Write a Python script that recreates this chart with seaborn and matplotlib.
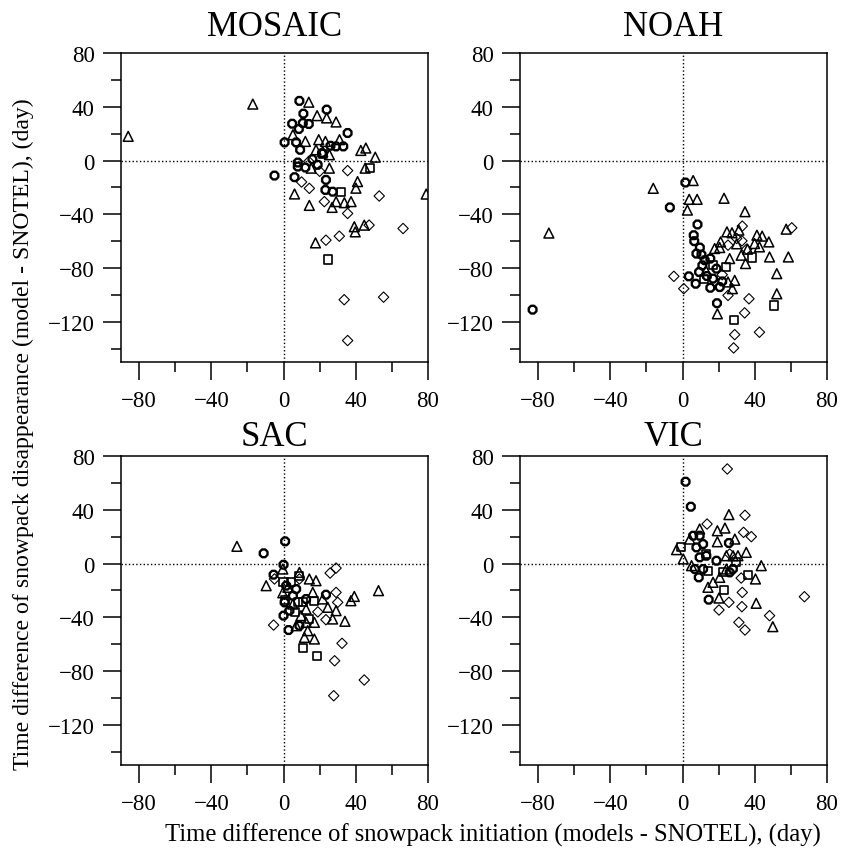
import pandas as pd
import matplotlib
matplotlib.use('Agg')
import matplotlib.pyplot as plt
import numpy as np
import seaborn as sns
from matplotlib.ticker import MultipleLocator

# ---- data (x: initiation diff, y: disappearance diff), days ----
# MOSAIC
mosaic_tri_x = [-86, -17, 14, 18.6, 23.9, 29.1, 5.2, 12.1, 19.5, 23.2, 31, 18, 21.7, 25.4, 42.8, 45.6, 50.8,
                15.3, 25.4, 45.2, 41, 40.1, 6.1, 29.1, 33.7, 37.4, 26.9, 14.3, 39.2, 39.7, 44.7, 17.7, 79]
mosaic_tri_y = [18, 42, 43.4, 33.4, 31.7, 28.7, 19.2, 14.2, 15.5, 14.2, 15.5, 8, 6.7, 4.3, 7.5, 9.3, 2.5,
                -5.7, -5.7, -5.7, -15.7, -20.6, -24.9, -30.6, -31.4, -30.6, -34.9, -33.4, -49.3, -53.1, -48.1, -61.3, -25]
mosaic_cir_x = [8.8, 23.9, 11, 4.8, 14, 10.7, 8.5, 0.6, 7, 9.2, 35.5, 33.1, 29.1, 21.3, 7.9, 18.9, 12.1,
                6.1, -5, 23.5, 23.2, 27.2, 7.9, 16, 26]
mosaic_cir_y = [44.4, 37.9, 34.9, 27.4, 27.2, 27.9, 23.5, 13.5, 13.5, 8, 20.5, 10.5, 10.5, 5.5, -1.5, -3.2, -5.2,
                -12.4, -11.2, -14.4, -21.9, -23.2, -4.5, 1, 11]
mosaic_dia_x = [14, 35.5, 14.3, 53, 22.6, 35.5, 47.4, 23.5, 30.9, 33.6, 55.4, 35.5, 66.2, 20, 10]
mosaic_dia_y = [-0.7, -7.5, -20.7, -26.4, -30.6, -39.4, -48.1, -59.3, -56.3, -103.6, -101.7, -134, -50.6, -8, -16]
mosaic_sq_x = [47.8, 31.8, 24.5, 22.1]
mosaic_sq_y = [-5.7, -23.2, -73.7, 5]

# NOAH
noah_tri_x = [-74, -16.2, 5.9, 3.7, 8.1, 23, 2.7, 34.6, 24.6, 27.4, 31.2, 21.1, 20.6, 17.8, 41.2, 44.1, 47.8,
              39.9, 42.6, 57.4, 48.2, 58.6, 32.5, 26.1, 34.9, 52.2, 52.2, 25.2, 28.9, 27.6, 19.3, 36, 30, 13]
noah_tri_y = [-54, -20.7, -14.9, -28.9, -28.9, -28.1, -36.9, -38.1, -53.1, -53.8, -51.8, -60.6, -64.8, -65.5,
              -55.6, -56.3, -60.6, -61.8, -64.3, -51.1, -71.8, -71.8, -70.5, -73, -76.7, -84.2, -99.2, -90.4,
              -89.2, -95.4, -114.1, -66, -62, -82]
noah_cir_x = [-83, 1.6, -7, 8.3, 6.2, 9.6, 7.7, 12.3, 15.4, 18.8, 3.5, 7.3, 9.2, 15.4, 16.9, 20.6, 19.1,
              6.5, 11, 13.5, 22, 10.5]
noah_cir_y = [-111, -16.4, -34.9, -47.6, -55.6, -64.8, -69.3, -74.2, -73, -80.5, -86.2, -91.7, -83, -94.7,
              -87.9, -94.2, -106.2, -60, -78, -86, -90, -70]
noah_dia_x = [33.1, 32.9, 25.2, 60.5, 25.2, -4.8, 0.7, 36.8, 34.4, 42.6, 28.9, 28.3, 35.5, 30, 22]
noah_dia_y = [-48.8, -59.8, -63, -50.1, -100.4, -86.2, -95.4, -102.9, -113.4, -127.8, -129.6, -139.5, -66, -58, -85]
noah_sq_x = [38.6, 23.9, 50.9, 28.5, 12, 17]
noah_sq_y = [-72.2, -79.2, -107.9, -118.6, -88, -78]

# SAC
sac_tri_x = [-25.8, -9.6, -0.4, 8.8, 14.3, 18, -0.4, 16.2, 21.7, 12.5, 17.1, 12.5, 7, 13.4, 11.6, 17.1,
             24.5, 29.1, 27.2, 34, 37.3, 39.2, 52.6, 5.2, 9.7, 2.4]
sac_tri_y = [12.8, -16.5, -4.1, -6.6, -11.5, -12.8, -21.8, -21.5, -26.4, -33.9, -43.8, -43.8, -46.3, -50,
             -55, -56.2, -32.6, -35.1, -41.3, -43, -27.7, -24.5, -20.2, -30.2, -38.8, -17.7]
sac_cir_x = [0.9, -11, -5.5, 0, 23.5, 0, 2.8, 1.5, 7, 5.2, 0.6, 12.5, 3.3, 8.8]
sac_cir_y = [16.5, 7.6, -8.3, -0.9, -23.2, -38.8, -49.5, -16.5, -19, -24, -28.9, -26.4, -35.1, -46.3]
sac_dia_x = [-5, 25.8, 29.1, 29.1, 30, 23.5, 32.4, 28.3, 44.7, 27.8, -5.5, 8.8, 19]
sac_dia_y = [-11.5, -7.1, -3.4, -21.5, -28.9, -41.8, -59.4, -72.4, -86.7, -98.4, -45.8, -11.5, -36]
sac_sq_x = [0, 4.2, 8.8, 0.9, 7.9, 10.7, 17.1, 6.4, 14.3, 10.9, 18.4]
sac_sq_y = [-14, -14, -9, -27, -28.9, -28.9, -27.7, -36.3, -41.3, -63.2, -68.6]

# VIC
vic_tri_x = [25.7, 19.3, 23.5, 29, 19.3, 35.3, 43.6, 40.4, 40.8, 50, 20.2, 14.1, 16.9, -3.3, 0.4, 5, 24.3,
             28, 30.7, 4, 20.6, 24.3, 9.5]
vic_tri_y = [36.4, 24.4, 26.4, 18.2, 16.2, 8.3, -1.6, -11.5, -29.6, -47, -25.7, -17.7, -14, 10.3, 3.4, -1.6,
             5.8, 5.8, 5.8, 18.2, -10.3, -4.1, 25.7]
vic_cir_x = [1.7, 4.6, 25.7, 9, 14.5, 7.7, 9.5, 11.4, 13.2, 9.5, 6.8, 11.4, 18.8, 26.1, 27.9, 5.9]
vic_cir_y = [60.9, 42.3, 15.3, -10.3, -26.9, 12, 20.7, 14.5, 5.8, 4.6, -4.1, -4.1, 2.1, -6.6, -4.1, 20.7]
vic_dia_x = [24.8, 34.6, 13.6, 33.8, 38.1, 32.5, 67.5, 33.1, 25.7, 32.9, 20.2, 48.2, 31.2, 34.6, 26.1]
vic_dia_y = [70.4, 35.9, 29.4, 23.2, 20, -10.8, -24.7, -21.5, -28.9, -32.1, -34.6, -38.8, -43.8, -49.5, 7.1]
vic_sq_x = [-0.6, 14.1, 22.8, 36.2, 13.2, 22.4, 29.8]
vic_sq_y = [12, -5.4, -19.7, -8.6, 7.1, -6.6, 0.9]

panel_names = ['MOSAIC', 'NOAH', 'SAC', 'VIC']
panel_data = {
    'MOSAIC': [(mosaic_tri_x, mosaic_tri_y), (mosaic_dia_x, mosaic_dia_y), (mosaic_cir_x, mosaic_cir_y), (mosaic_sq_x, mosaic_sq_y)],
    'NOAH': [(noah_tri_x, noah_tri_y), (noah_dia_x, noah_dia_y), (noah_cir_x, noah_cir_y), (noah_sq_x, noah_sq_y)],
    'SAC': [(sac_tri_x, sac_tri_y), (sac_dia_x, sac_dia_y), (sac_cir_x, sac_cir_y), (sac_sq_x, sac_sq_y)],
    'VIC': [(vic_tri_x, vic_tri_y), (vic_dia_x, vic_dia_y), (vic_cir_x, vic_cir_y), (vic_sq_x, vic_sq_y)],
}
# marker, size, edge width for triangle / diamond / circle / square
marker_styles = [('^', 50, 1.1), ('D', 28, 0.8), ('8', 36, 1.7), ('s', 34, 1.2)]

sns.set_style('white')
plt.rcParams['font.family'] = ['Liberation Serif', 'DejaVu Serif']
plt.rcParams['axes.linewidth'] = 1.1
plt.rcParams['text.color'] = 'black'
plt.rcParams['xtick.color'] = 'black'
plt.rcParams['ytick.color'] = 'black'
plt.rcParams['axes.titlecolor'] = 'black'

fig = plt.figure(figsize=(8.43, 8.54), dpi=100)
lefts = [0.1435, 0.6168]
bottoms = [0.5749, 0.1030]
w, h = 0.3642, 0.3618

for i, name in enumerate(panel_names):
    ax = fig.add_axes([lefts[i % 2], bottoms[i // 2], w, h])
    ax.axhline(0, color='black', linestyle=':', linewidth=1.0, zorder=1)
    ax.axvline(0, color='black', linestyle=':', linewidth=1.0, zorder=1)
    for (xs, ys), (mk, sz, lw) in zip(panel_data[name], marker_styles):
        sns.scatterplot(x=xs, y=ys, marker=mk, s=sz, facecolor='none', edgecolor='black',
                        linewidth=lw, ax=ax, zorder=3)
    ax.set_xlim(-90, 80)
    ax.set_ylim(-150, 80)
    ax.xaxis.set_minor_locator(MultipleLocator(20))
    ax.yaxis.set_minor_locator(MultipleLocator(20))
    ax.set_xticks([-80, -40, 0, 40, 80])
    ax.set_yticks([-120, -80, -40, 0, 40, 80])
    ax.tick_params(which='major', direction='out', length=13, width=1.1, labelsize=16.5,
                   bottom=True, left=True, top=False, right=False, pad=7)
    ax.tick_params(which='minor', direction='out', length=7, width=1.1,
                   bottom=True, left=True, top=False, right=False)
    ax.tick_params(axis='y', which='major', pad=6)
    for sp in ax.spines.values():
        sp.set_visible(True)
        sp.set_color('black')
        sp.set_linewidth(1.1)
    ax.set_title(name, fontsize=25, pad=13 if i < 2 else 8)
    ax.set_xlabel('')
    ax.set_ylabel('')

fig.text(0.585, 0.022, 'Time difference of snowpack initiation (models - SNOTEL), (day)',
         ha='center', va='center', fontsize=17.7)
fig.text(0.028, 0.491, 'Time difference of snowpack disappearance (model - SNOTEL), (day)',
         ha='center', va='center', rotation=90, fontsize=17.1)

fig.savefig('out.png', dpi=100)
